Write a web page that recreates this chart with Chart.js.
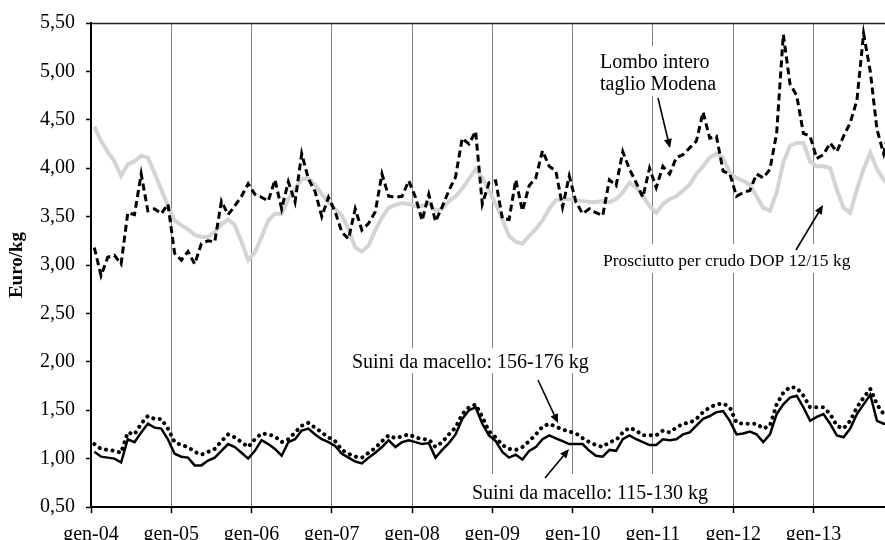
<!DOCTYPE html>
<html>
<head>
<meta charset="utf-8">
<script src="https://cdn.jsdelivr.net/npm/chart.js@4.4.0/dist/chart.umd.min.js"></script>
<style>
html,body{margin:0;padding:0;background:#fff;overflow:hidden}
#wrap{width:885px;height:540px;position:relative}
</style>
</head>
<body>
<div id="wrap"><canvas id="c" width="885" height="540"></canvas></div>
<script>
// ---- categories (monthly, gen-04 .. dic-13) ----
const monthNames = ['gen','feb','mar','apr','mag','giu','lug','ago','set','ott','nov','dic'];
const yearLabels = ['04','05','06','07','08','09','10','11','12','13'];
const categories = [];
yearLabels.forEach(y => monthNames.forEach(m => categories.push(m + '-' + y)));

// ---- series values (Euro/kg) ----
const lomboModena = [
  3.18,2.89,3.08,3.10,3.01,3.54,3.52,3.94,3.56,3.58,3.53,3.63,
  3.12,3.05,3.14,3.01,3.22,3.25,3.24,3.66,3.52,3.61,3.71,3.84,
  3.73,3.70,3.66,3.88,3.58,3.86,3.65,4.15,3.89,3.76,3.50,3.70,
  3.55,3.34,3.27,3.58,3.36,3.43,3.55,3.94,3.71,3.70,3.71,3.87,
  3.70,3.46,3.73,3.45,3.60,3.77,3.91,4.31,4.25,4.38,3.63,3.85,
  3.87,3.48,3.47,3.88,3.56,3.82,3.90,4.18,4.02,3.97,3.60,3.92,
  3.65,3.53,3.58,3.54,3.51,3.88,3.82,4.17,3.99,3.85,3.70,4.00,
  3.80,4.02,3.94,4.11,4.14,4.21,4.28,4.58,4.31,4.33,3.97,3.94,
  3.71,3.75,3.77,3.94,3.90,3.99,4.36,5.38,4.87,4.75,4.36,4.33,
  4.10,4.14,4.26,4.17,4.33,4.47,4.70,5.39,5.00,4.40,4.15,4.45
];
const prosciuttoDop = [
  4.43,4.28,4.17,4.07,3.92,4.04,4.07,4.13,4.11,3.95,3.78,3.61,
  3.46,3.41,3.37,3.31,3.29,3.29,3.34,3.42,3.47,3.41,3.24,3.05,
  3.13,3.29,3.46,3.53,3.53,3.68,3.78,3.89,3.89,3.83,3.73,3.65,
  3.58,3.51,3.37,3.18,3.14,3.20,3.36,3.49,3.59,3.62,3.64,3.63,
  3.61,3.61,3.64,3.56,3.58,3.66,3.71,3.79,3.89,3.99,3.90,3.77,
  3.63,3.47,3.30,3.24,3.22,3.30,3.37,3.46,3.58,3.67,3.68,3.68,
  3.67,3.66,3.65,3.65,3.66,3.65,3.68,3.75,3.85,3.80,3.71,3.61,
  3.54,3.63,3.68,3.71,3.77,3.83,3.94,4.02,4.11,4.15,4.11,3.95,
  3.90,3.87,3.83,3.71,3.59,3.56,3.75,4.06,4.23,4.26,4.26,4.07,
  4.02,4.02,4.00,3.78,3.59,3.54,3.78,3.99,4.16,3.99,3.88,3.82
];
const suini156_176 = [
  1.15,1.10,1.09,1.08,1.06,1.27,1.25,1.36,1.44,1.41,1.41,1.31,
  1.17,1.14,1.12,1.07,1.04,1.07,1.10,1.18,1.25,1.22,1.17,1.12,
  1.20,1.26,1.25,1.23,1.17,1.20,1.27,1.34,1.37,1.32,1.27,1.22,
  1.18,1.09,1.05,1.02,1.01,1.06,1.11,1.18,1.24,1.21,1.23,1.25,
  1.22,1.20,1.20,1.12,1.17,1.25,1.32,1.46,1.53,1.56,1.43,1.28,
  1.22,1.14,1.10,1.09,1.12,1.18,1.25,1.33,1.36,1.33,1.30,1.28,
  1.26,1.21,1.17,1.14,1.12,1.17,1.19,1.27,1.32,1.29,1.24,1.24,
  1.24,1.29,1.27,1.32,1.36,1.37,1.41,1.48,1.53,1.56,1.57,1.53,
  1.37,1.36,1.36,1.36,1.31,1.34,1.56,1.68,1.74,1.73,1.65,1.53,
  1.53,1.53,1.46,1.34,1.31,1.39,1.53,1.63,1.72,1.56,1.46,1.48
];
const suini115_130 = [
  1.07,1.02,1.01,1.00,0.96,1.20,1.17,1.27,1.36,1.32,1.31,1.20,
  1.05,1.02,1.01,0.93,0.93,0.98,1.01,1.08,1.15,1.12,1.06,1.00,
  1.08,1.19,1.15,1.10,1.03,1.17,1.20,1.29,1.31,1.25,1.20,1.17,
  1.13,1.05,1.01,0.97,0.95,1.01,1.06,1.12,1.19,1.12,1.17,1.19,
  1.17,1.15,1.16,1.01,1.09,1.16,1.25,1.41,1.50,1.53,1.36,1.24,
  1.18,1.07,1.01,1.04,0.99,1.08,1.12,1.20,1.24,1.21,1.18,1.15,
  1.15,1.15,1.08,1.03,1.02,1.09,1.08,1.20,1.24,1.20,1.17,1.14,
  1.14,1.20,1.19,1.20,1.25,1.27,1.34,1.41,1.44,1.48,1.49,1.39,
  1.25,1.26,1.28,1.25,1.17,1.25,1.46,1.56,1.63,1.65,1.53,1.39,
  1.43,1.46,1.36,1.24,1.22,1.31,1.46,1.56,1.66,1.39,1.36,1.36
];

// ---- tick labels ----
const yTickValues = [0.5,1,1.5,2,2.5,3,3.5,4,4.5,5,5.5];
const xTickIndex = [0,12,24,36,48,60,72,84,96,108];

// ---- labels / arrows (annotation text) ----
const serif = '"Liberation Serif","Times New Roman",serif';
const noteTexts = [
  {text:'Lombo intero', x:600, y:68, size:20},
  {text:'taglio Modena', x:600, y:89.5, size:20},
  {text:'Prosciutto per crudo DOP 12/15 kg', x:603, y:265.5, size:17.5},
  {text:'Suini da macello: 156-176 kg', x:352, y:368, size:20},
  {text:'Suini da macello: 115-130 kg', x:472, y:499, size:20}
];
const noteBoxes = [
  [596,46,124,50],
  [598,244,260,29],
  [348,348,244,25],
  [468,474,243,32]
];
const noteArrows = [
  [658,98,670,148],
  [796,250,823,205],
  [538,380,558,423],
  [545,478,569,449]
];

const toPoints = arr => arr.map((v,i) => ({x: i + 0.5, y: v}));

const notesPlugin = {
  id: 'notes',
  beforeDatasetsDraw(chart) {
    const ctx = chart.ctx;
    ctx.save();
    ctx.fillStyle = '#ffffff';
    noteBoxes.forEach(b => ctx.fillRect(b[0], b[1], b[2], b[3]));
    ctx.restore();
  },
  afterDatasetsDraw(chart) {
    const ctx = chart.ctx;
    const a = chart.chartArea;
    ctx.save();
    // top frame line
    ctx.strokeStyle = '#222';
    ctx.lineWidth = 1.5;
    ctx.beginPath();
    ctx.moveTo(a.left, a.top + 0.5);
    ctx.lineTo(a.right, a.top + 0.5);
    ctx.stroke();
    // texts
    ctx.fillStyle = '#000';
    ctx.textBaseline = 'alphabetic';
    ctx.textAlign = 'left';
    noteTexts.forEach(t => {
      ctx.font = t.size + 'px ' + serif;
      ctx.fillText(t.text, t.x, t.y);
    });
    // arrows
    ctx.strokeStyle = '#000';
    ctx.fillStyle = '#000';
    ctx.lineWidth = 1.6;
    noteArrows.forEach(([x1,y1,x2,y2]) => {
      const ang = Math.atan2(y2 - y1, x2 - x1);
      const L = 9, W = 4;
      const bx = x2 - L * Math.cos(ang), by = y2 - L * Math.sin(ang);
      ctx.beginPath();
      ctx.moveTo(x1, y1);
      ctx.lineTo(bx, by);
      ctx.stroke();
      ctx.beginPath();
      ctx.moveTo(x2, y2);
      ctx.lineTo(bx + W * Math.sin(ang), by - W * Math.cos(ang));
      ctx.lineTo(bx - W * Math.sin(ang), by + W * Math.cos(ang));
      ctx.closePath();
      ctx.fill();
    });
    ctx.restore();
  }
};

new Chart(document.getElementById('c'), {
  type: 'line',
  data: {
    datasets: [
      {label:'Suini da macello: 115-130 kg', data: toPoints(suini115_130), borderColor:'#000', borderWidth:2.5, pointRadius:0, fill:false, tension:0},
      {label:'Suini da macello: 156-176 kg', data: toPoints(suini156_176), borderColor:'#000', borderWidth:4, borderDash:[0.1,6.5], borderCapStyle:'round', pointRadius:0, fill:false, tension:0},
      {label:'Lombo intero taglio Modena', data: toPoints(lomboModena), borderColor:'#000', borderWidth:3, borderDash:[7,4], pointRadius:0, fill:false, tension:0},
      {label:'Prosciutto per crudo DOP 12/15 kg', data: toPoints(prosciuttoDop), borderColor:'#d4d4d4', borderWidth:4, pointRadius:0, fill:false, tension:0}
    ]
  },
  options: {
    responsive: false,
    animation: false,
    devicePixelRatio: 1,
    layout: {padding: {top: 19, right: 0, left: 0, bottom: 0}},
    plugins: {legend: {display: false}, tooltip: {enabled: false}},
    scales: {
      x: {
        type: 'linear',
        min: 0,
        max: 118.7,
        afterBuildTicks: s => { s.ticks = xTickIndex.map(v => ({value: v})); },
        afterFit: s => { s.height = 33; },
        grid: {color: '#7f7f7f', lineWidth: 1, drawTicks: true, tickLength: 6, tickColor: '#000', tickWidth: 1.5},
        border: {display: true, color: '#000', width: 2},
        ticks: {
          autoSkip: false, maxRotation: 0,
          color: '#000', padding: 10,
          font: {family: serif, size: 20},
          callback: v => categories[v]
        }
      },
      y: {
        min: 0.5,
        max: 5.5,
        afterBuildTicks: s => { s.ticks = yTickValues.map(v => ({value: v})); },
        afterFit: s => { s.width = 91; },
        grid: {drawOnChartArea: false, drawTicks: true, tickLength: 5, tickColor: '#000', tickWidth: 1.5},
        border: {display: true, color: '#000', width: 2},
        ticks: {
          color: '#000', padding: 11,
          font: {family: serif, size: 20},
          callback: v => v.toFixed(2).replace('.', ',')
        },
        title: {
          display: true, text: 'Euro/kg', color: '#000',
          font: {family: serif, size: 19, weight: 'bold', lineHeight: 1.2},
          padding: {top: 6, bottom: 0}
        }
      }
    }
  },
  plugins: [notesPlugin]
});
</script>
</body>
</html>
